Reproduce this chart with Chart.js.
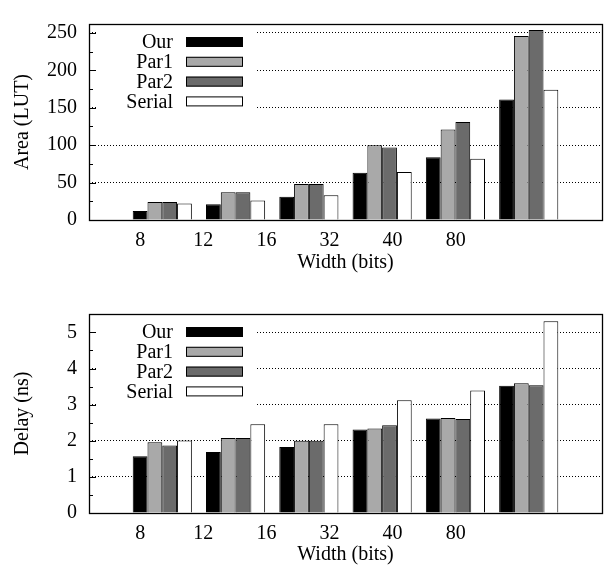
<!DOCTYPE html>
<html>
<head>
<meta charset="utf-8">
<script src="https://cdn.jsdelivr.net/npm/chart.js@4/dist/chart.umd.min.js"></script>
<style>
  body { margin: 0; background: #fff; }
  canvas { display: block; }
</style>
</head>
<body>
<canvas id="areaChart" width="608" height="290"></canvas>
<canvas id="delayChart" width="608" height="285"></canvas>
<script>
// bit widths on the x axis
const widths = ['8', '12', '16', '32', '40', '80'];
const seriesNames = ['Our', 'Par1', 'Par2', 'Serial'];

// area in LUTs
const areaOur = [12, 21, 31, 63, 84, 161];
const areaPar1 = [24, 37, 48, 100, 121, 246];
const areaPar2 = [24, 37, 48, 97, 131, 254];
const areaSerial = [22, 26, 33, 64, 82, 174];
const areaTicks = [0, 50, 100, 150, 200, 250];

// delay in ns
const delayOur = [1.57, 1.69, 1.83, 2.31, 2.62, 3.52];
const delayPar1 = [1.96, 2.08, 2.00, 2.34, 2.63, 3.59];
const delayPar2 = [1.87, 2.08, 2.00, 2.43, 2.60, 3.54];
const delaySerial = [2.01, 2.46, 2.46, 3.12, 3.39, 5.31];
const delayTicks = [0, 1, 2, 3, 4, 5];

const fills = ['#000000', '#a9a9a9', '#6b6b6b', '#ffffff'];
const FONT = "'Liberation Serif', 'DejaVu Serif', serif";
const FS = 20;

// frame, inner tick marks and the boxed legend (gnuplot style)
const gnuplotLook = {
    id: 'gnuplotLook',
    beforeDatasetsDraw(chart) {
        const { ctx, chartArea: a } = chart;
        const y = chart.scales.y;
        const minor = chart.options.plugins.gnuplotLook.minor;
        ctx.save();
        // legend background hides the grid behind it
        ctx.fillStyle = '#fff';
        ctx.fillRect(a.left + 8, a.top + 1, 158, 91);
        ctx.font = FS + 'px ' + FONT;
        ctx.textAlign = 'right';
        ctx.textBaseline = 'middle';
        chart.data.datasets.forEach((ds, i) => {
            const cy = a.top + 18 + i * 19.8;
            ctx.fillStyle = '#000';
            ctx.fillText(ds.label, a.left + 84, cy + 1);
            ctx.fillStyle = ds.backgroundColor;
            ctx.fillRect(a.left + 97, cy - 5, 57, 10);
            ctx.strokeStyle = '#000';
            ctx.lineWidth = 1;
            ctx.strokeRect(a.left + 97.5, cy - 4.5, 56, 9);
        });
        // inner ticks on the left axis
        ctx.strokeStyle = '#000';
        ctx.beginPath();
        for (let v = 0; v <= y.max; v += minor) {
            const py = Math.round(y.getPixelForValue(v)) + 0.5;
            const major = Math.abs(v / (minor * 2) - Math.round(v / (minor * 2))) < 1e-6;
            ctx.moveTo(a.left, py);
            ctx.lineTo(a.left + (major ? 7 : 4), py);
        }
        ctx.stroke();
        ctx.restore();
    },
    afterDraw(chart) {
        const { ctx, chartArea: a } = chart;
        ctx.save();
        ctx.strokeStyle = '#000';
        ctx.lineWidth = 1.3;
        ctx.strokeRect(Math.round(a.left) + 0.5, Math.round(a.top) + 0.5,
            Math.round(a.right - a.left), Math.round(a.bottom - a.top));
        ctx.restore();
    }
};

function makeChart(id, values, yTitle, yMax, yTicks, minor, pad) {
    const datasets = seriesNames.map((name, i) => ({
        label: name,
        data: [null, ...values[i], null],
        backgroundColor: fills[i],
        borderColor: '#000',
        borderWidth: 1,
        xAxisID: 'x',
        yAxisID: 'y'
    }));

    return new Chart(document.getElementById(id), {
        type: 'bar',
        data: { labels: ['', ...widths, ''], datasets },
        options: {
            responsive: false,
            animation: false,
            events: [],
            layout: { padding: { top: pad.top, right: 6, left: 0, bottom: 0 } },
            datasets: { bar: { barPercentage: 1, categoryPercentage: 0.807 } },
            plugins: {
                legend: { display: false },
                tooltip: { enabled: false },
                gnuplotLook: { minor }
            },
            scales: {
                x: {
                    type: 'category',
                    display: false,
                    offset: false
                },
                xl: {
                    type: 'linear',
                    position: 'bottom',
                    offset: false,
                    min: -0.81,
                    max: 7.317,
                    grid: { display: false, drawTicks: false, offset: false },
                    border: { display: false },
                    afterBuildTicks: s => { s.ticks = widths.map((w, i) => ({ value: i })); },
                    afterFit: s => { s.height = pad.xh; },
                    ticks: {
                        padding: 9,
                        color: '#000',
                        font: { family: FONT, size: FS },
                        callback: v => widths[v]
                    },
                    title: {
                        display: true,
                        text: 'Width (bits)',
                        color: '#000',
                        font: { family: FONT, size: FS },
                        padding: { top: 0, bottom: pad.tb }
                    }
                },
                y: {
                    min: 0,
                    max: yMax,
                    afterBuildTicks: s => { s.ticks = yTicks.map(v => ({ value: v })); },
                    afterFit: s => { s.width = 89; },
                    grid: { color: '#000', lineWidth: 1, drawTicks: false },
                    border: { display: false, dash: [1, 2] },
                    ticks: {
                        padding: 12,
                        color: '#000',
                        font: { family: FONT, size: FS }
                    },
                    title: {
                        display: true,
                        text: yTitle,
                        color: '#000',
                        font: { family: FONT, size: FS },
                        padding: { top: 11, bottom: 0 }
                    }
                }
            }
        },
        plugins: [gnuplotLook]
    });
}

makeChart('areaChart', [areaOur, areaPar1, areaPar2, areaSerial],
    'Area (LUT)', 262, areaTicks, 25, { top: 10, xh: 70, tb: 15 });
makeChart('delayChart', [delayOur, delayPar1, delayPar2, delaySerial],
    'Delay (ns)', 5.51, delayTicks, 0.5, { top: 13, xh: 62, tb: 8 });
</script>
</body>
</html>
